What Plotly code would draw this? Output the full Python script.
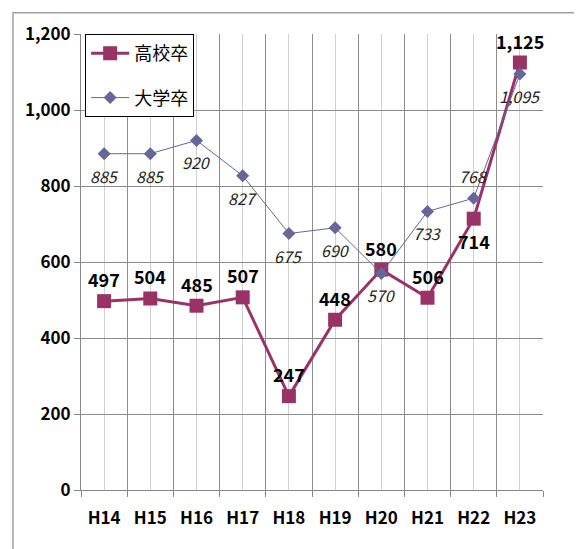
import plotly.graph_objects as go

categories = ["H14", "H15", "H16", "H17", "H18", "H19", "H20", "H21", "H22", "H23"]
koukou = [497, 504, 485, 507, 247, 448, 580, 506, 714, 1125]
daigaku = [885, 885, 920, 827, 675, 690, 570, 733, 768, 1095]
# +1 = label above the point, -1 = label below
koukou_side = [1, 1, 1, 1, 1, 1, 1, 1, -1, 1]
daigaku_side = [-1, -1, -1, -1, -1, -1, -1, -1, 1, -1]
yticks = [0, 200, 400, 600, 800, 1000, 1200]

xs = list(range(len(categories)))
FONT = "Noto Sans CJK JP"

fig = go.Figure()
fig.add_trace(go.Scatter(
    x=xs, y=koukou, name="高校卒", legendgroup="a", mode="lines+markers",
    line=dict(color="#993366", width=3),
    marker=dict(symbol="square", size=14, color="#993366"),
))
fig.add_trace(go.Scatter(
    x=xs, y=daigaku, name="大学卒", legendgroup="b", mode="lines+markers",
    line=dict(color="#666699", width=1),
    marker=dict(symbol="diamond", size=10, color="#666699"),
))

for x, v, s in zip(xs, koukou, koukou_side):
    fig.add_annotation(x=x, y=v, text=f"{v:,}", showarrow=False,
                       yshift=22 * s,
                       font=dict(family=FONT, size=18, color="black", weight="bold"))
for x, v, s in zip(xs, daigaku, daigaku_side):
    fig.add_annotation(x=x, y=v, text=f"{v:,}", showarrow=False,
                       yshift=22 * s,
                       font=dict(family=FONT, size=16, color="#222222", style="italic"))

# page has an 8px body margin; figure coords are page coords minus 8
L, T, PW, PH = 73, 22, 462, 460
W, H = 574, 541

fig.update_layout(
    width=W, height=H,
    margin=dict(l=L, r=W - L - PW, t=T, b=H - T - PH),
    paper_bgcolor="white", plot_bgcolor="white",
    font=dict(family=FONT, color="black"),
    legend=dict(x=0.009, y=1.0, xanchor="left", yanchor="top",
                bgcolor="white", bordercolor="black", borderwidth=1,
                itemwidth=38,
                font=dict(size=18, family=FONT), tracegroupgap=18),
    showlegend=True,
    xaxis=dict(range=[-0.5, 9.5], tickvals=xs, ticktext=categories,
               showgrid=True, gridcolor="#d0d0d0", gridwidth=1,
               ticks="", showline=True, linecolor="#888888", linewidth=1,
               ticklabelstandoff=13,
               tickfont=dict(size=17, family=FONT, weight="bold"),
               minor=dict(tick0=-0.5, dtick=1, showgrid=True, gridcolor="#8c8c8c",
                          ticks="outside", ticklen=6, tickcolor="#888888"),
               zeroline=False),
    yaxis=dict(range=[0, 1200], tickvals=yticks, ticktext=[f"{v:,}" for v in yticks],
               showgrid=True, gridcolor="#8c8c8c", gridwidth=1,
               ticks="outside", ticklen=6, tickcolor="#888888",
               showline=True, linecolor="#888888", linewidth=1,
               tickfont=dict(size=17, family=FONT, weight="bold"),
               zeroline=False),
)

# outer chart frame
fig.add_shape(type="rect", xref="paper", yref="paper",
              x0=(5 - L) / PW, x1=(569 - L) / PW,
              y0=(T + PH - 560) / PH, y1=(T + PH - 0.5) / PH,
              line=dict(color="#a0a0a0", width=1.5), layer="below")

fig.write_html("out.html")
